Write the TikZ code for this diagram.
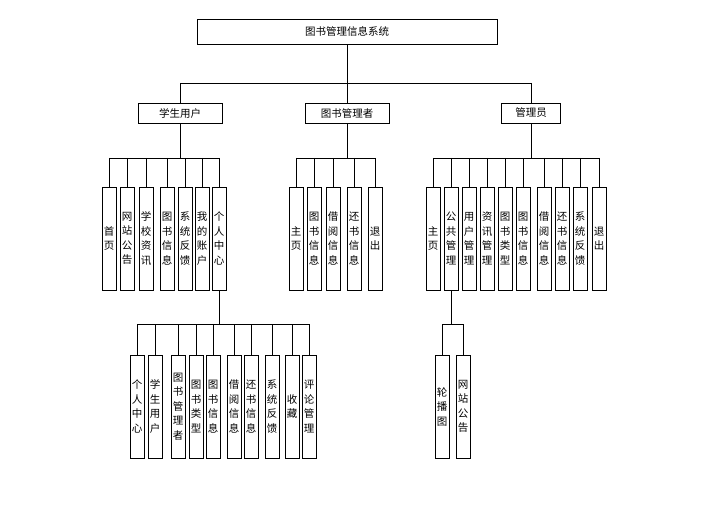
\documentclass[tikz,border=0pt]{standalone}
\usepackage{fontspec}
\setmainfont{Noto Sans CJK SC}
\usetikzlibrary{positioning}
\tikzset{
  box/.style={draw, thick, fill=white, inner sep=1pt, font=\fontsize{10.5}{14.5}\selectfont},
  leaf/.style={box, minimum width=14pt, minimum height=103pt, text width=12pt, align=center},
  link/.style={draw, thick}
}
\begin{document}
\begin{tikzpicture}[x=1pt, y=-1pt]
  \useasboundingbox (0,0) rectangle (721,508);

  % top and second level
  \node[box, minimum width=300pt, minimum height=25pt] (root) at (347,31.5) {图书管理信息系统};
  \node[box, minimum width=84pt, minimum height=20pt] (stu) at (180,113) {学生用户};
  \node[box, minimum width=84pt, minimum height=20pt] (lib) at (347,113) {图书管理者};
  \node[box, minimum width=59pt, minimum height=20pt] (adm) at (531,113) {管理员};
  \coordinate (rbus) at (347,83);
  \draw[link] (root.south) -- (rbus);
  \draw[link] (stu.north |- rbus) -- (adm.north |- rbus);
  \foreach \p in {stu,lib,adm}
    \draw[link] (\p.north |- rbus) -- (\p.north);

  % student user
  \coordinate (sbus) at (180,158);
  \foreach \x/\t [count=\i] in {109/{首\\页},127/{网\\站\\公\\告},146/{学\\校\\资\\讯},
      167/{图\\书\\信\\息},185/{系\\统\\反\\馈},202/{我\\的\\账\\户},219/{个\\人\\中\\心}}
    \node[leaf] (s\i) at (\x,238.5) {\t};
  \draw[link] (stu.south) -- (sbus);
  \draw[link] (s1.north |- sbus) -- (s7.north |- sbus);
  \foreach \i in {1,...,7}
    \draw[link] (s\i.north |- sbus) -- (s\i.north);

  % librarian
  \foreach \x/\t [count=\i] in {296/{主\\页},314/{图\\书\\信\\息},333/{借\\阅\\信\\息},
      354/{还\\书\\信\\息},375/{退\\出}}
    \node[leaf] (l\i) at (\x,238.5) {\t};
  \draw[link] (lib.south) -- (lib.south |- sbus);
  \draw[link] (l1.north |- sbus) -- (l5.north |- sbus);
  \foreach \i in {1,...,5}
    \draw[link] (l\i.north |- sbus) -- (l\i.north);

  % administrator
  \foreach \x/\t [count=\i] in {433/{主\\页},451/{公\\共\\管\\理},469/{用\\户\\管\\理},
      487/{资\\讯\\管\\理},505/{图\\书\\类\\型},523/{图\\书\\信\\息},544/{借\\阅\\信\\息},
      562/{还\\书\\信\\息},580/{系\\统\\反\\馈},599/{退\\出}}
    \node[leaf] (a\i) at (\x,238.5) {\t};
  \draw[link] (adm.south) -- (adm.south |- sbus);
  \draw[link] (a1.north |- sbus) -- (a10.north |- sbus);
  \foreach \i in {1,...,10}
    \draw[link] (a\i.north |- sbus) -- (a\i.north);

  % public management
  \coordinate (pbus) at (451,324);
  \node[leaf] (p1) at (442,406.5) {轮\\播\\图};
  \node[leaf] (p2) at (463,406.5) {网\\站\\公\\告};
  \draw[link] (a2.south) -- (pbus);
  \draw[link] (p1.north |- pbus) -- (p2.north |- pbus);
  \foreach \i in {1,2}
    \draw[link] (p\i.north |- pbus) -- (p\i.north);

  % personal centre
  \foreach \x/\t [count=\i] in {137/{个\\人\\中\\心},155/{学\\生\\用\\户},178/{图\\书\\管\\理\\者},
      196/{图\\书\\类\\型},213/{图\\书\\信\\息},234/{借\\阅\\信\\息},251/{还\\书\\信\\息},
      272/{系\\统\\反\\馈},292/{收\\藏},309/{评\\论\\管\\理}}
    \node[leaf] (c\i) at (\x,406.5) {\t};
  \draw[link] (s7.south) -- (s7.south |- pbus);
  \draw[link] (c1.north |- pbus) -- (c10.north |- pbus);
  \foreach \i in {1,...,10}
    \draw[link] (c\i.north |- pbus) -- (c\i.north);
\end{tikzpicture}
\end{document}
